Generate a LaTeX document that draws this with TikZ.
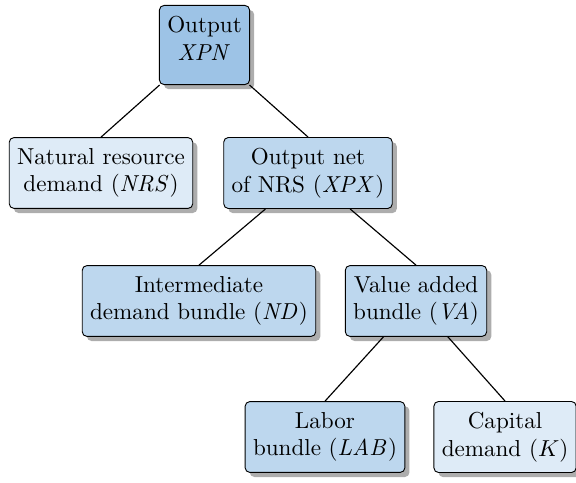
\documentclass[tikz,border=0pt]{standalone}
\usetikzlibrary{shadows}
\definecolor{cdark}{HTML}{9DC3E6}
\definecolor{cmid}{HTML}{BDD7EE}
\definecolor{clight}{HTML}{DEEBF7}
\tikzset{
  box/.style={draw=black, rounded corners=2pt, align=center, inner xsep=3.4pt, inner ysep=4.6pt,
    drop shadow={shadow xshift=2pt, shadow yshift=-2pt, fill=black!32, opacity=1}},
  topbox/.style={box, fill=cdark},
  midbox/.style={box, fill=cmid},
  lightbox/.style={box, fill=clight},
  link/.style={draw=black, line width=0.5pt}
}
\begin{document}
\begin{tikzpicture}[x=0.4329pt, y=-0.4329pt]
\useasboundingbox (0,0) rectangle (576,483);
\node[topbox] (xpn) at (204.5,45) {Output\\ $\mathit{XPN}$\\[-6pt]\mbox{}};
\node[lightbox] (nrs) at (101,173) {Natural resource\\ demand ($\mathit{NRS}$)};
\node[midbox] (xpx) at (308,173) {Output net\\ of NRS ($\mathit{XPX}$)};
\node[midbox] (nd) at (199,301) {Intermediate\\ demand bundle ($\mathit{ND}$)};
\node[midbox] (va) at (416,301) {Value added\\ bundle ($\mathit{VA}$)};
\node[midbox] (lab) at (325,437) {Labor\\ bundle ($\mathit{LAB}$)};
\node[lightbox] (k) at (505,437) {Capital\\ demand ($K$)};
\draw[link] (xpn) -- (nrs.north);
\draw[link] (xpn) -- (xpx.north);
\draw[link] (xpx) -- (nd.north);
\draw[link] (xpx) -- (va.north);
\draw[link] (va) -- (lab.north);
\draw[link] (va) -- (k.north);
\end{tikzpicture}
\end{document}
